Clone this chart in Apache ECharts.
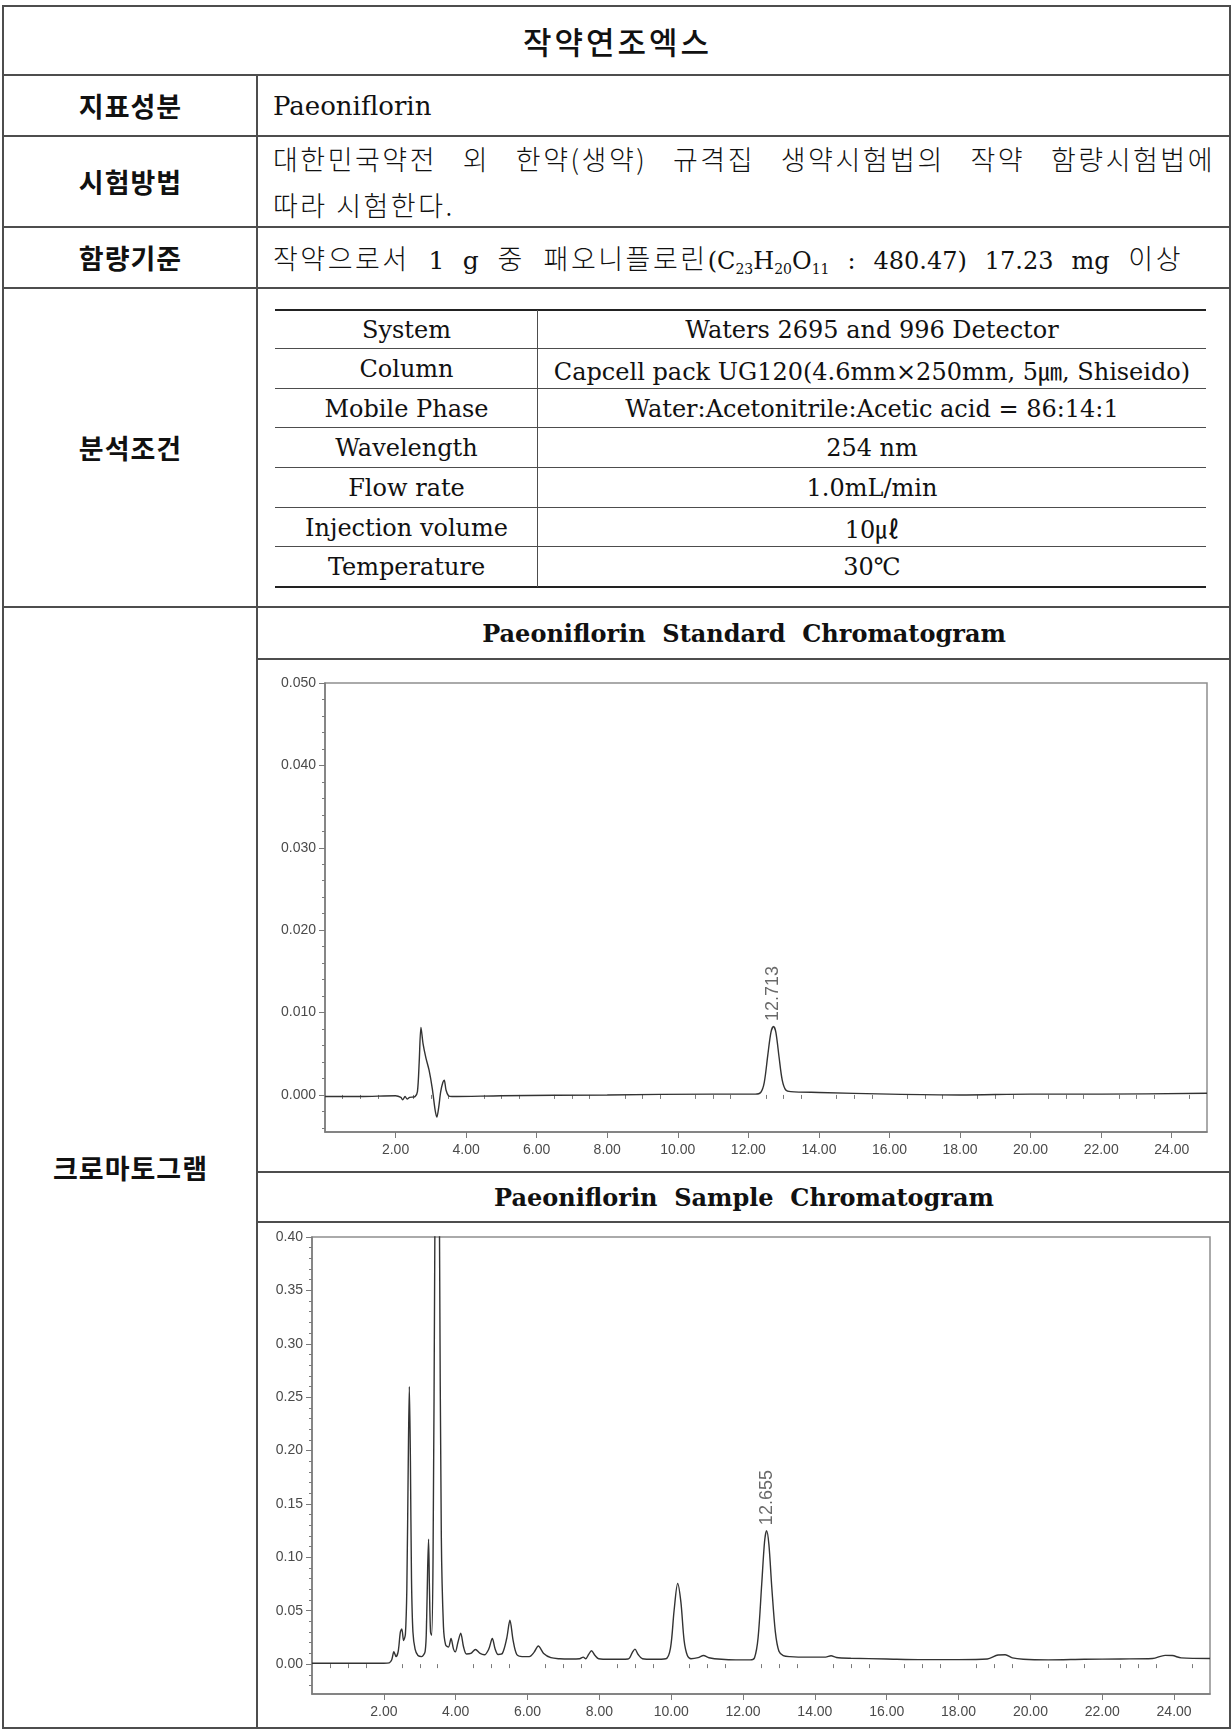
<!DOCTYPE html>
<html>
<head>
<meta charset="utf-8">
<title>작약연조엑스</title>
<script src="https://cdn.jsdelivr.net/npm/echarts@6/dist/echarts.min.js"></script>
<style>
  html, body { margin: 0; padding: 0; background: #fff; }
  #page { position: relative; width: 1231px; height: 1731px; overflow: hidden;
          font-family: "DejaVu Serif", "Noto Sans CJK KR", serif; color: #111; }
  .h { position: absolute; height: 0; border-top: 2px solid #4d4d4d; }
  .v { position: absolute; width: 0; border-left: 2px solid #4d4d4d; }
  .cell { position: absolute; display: flex; align-items: center; white-space: pre; }
  .hd { left: 3px; width: 254px; justify-content: center; padding-left: 1px; box-sizing: border-box;
        font-family: "Noto Sans CJK KR", sans-serif; font-weight: 700; font-size: 27px; letter-spacing: 1px; }
  .ko { font-family: "Noto Sans CJK KR", sans-serif; font-weight: 300; font-size: 27px; letter-spacing: 2.5px; }
  .lat { font-family: "DejaVu Serif", serif; letter-spacing: 0; }
  .jl { display: block; text-align: justify; text-align-last: justify; }
  .it { position: absolute; display: flex; align-items: center; justify-content: center;
        font-family: "DejaVu Serif", "Noto Sans CJK KR", serif; font-size: 24px; white-space: pre; }
  .ct { left: 257px; width: 974px; justify-content: center; font-family: "DejaVu Serif", serif;
        font-weight: 700; font-size: 24px; }
  sub { font-size: 14px; vertical-align: -5px; line-height: 0; }
  #chart { position: absolute; left: 0; top: 0; width: 1231px; height: 1731px; }
</style>
</head>
<body>
<div id="page">
  <!-- outer frame and row rules -->
  <div class="h" style="left:2px;width:1229px;top:5px;"></div>
  <div class="h" style="left:2px;width:1229px;top:74px;"></div>
  <div class="h" style="left:2px;width:1229px;top:135px;"></div>
  <div class="h" style="left:2px;width:1229px;top:226px;"></div>
  <div class="h" style="left:2px;width:1229px;top:287px;"></div>
  <div class="h" style="left:2px;width:1229px;top:606px;"></div>
  <div class="h" style="left:2px;width:1229px;top:1727px;"></div>
  <div class="v" style="left:2px;top:5px;height:1724px;"></div>
  <div class="v" style="left:1229px;top:5px;height:1724px;"></div>
  <div class="v" style="left:256px;top:74px;height:1655px;"></div>
  <!-- rules inside the chromatogram cell -->
  <div class="h" style="left:257px;width:974px;top:658px;"></div>
  <div class="h" style="left:257px;width:974px;top:1171px;"></div>
  <div class="h" style="left:257px;width:974px;top:1221px;"></div>

  <!-- title row -->
  <div class="cell" style="left:3px;width:1226px;top:6px;height:69px;justify-content:center;padding-left:3px;box-sizing:border-box;font-family:'Noto Sans CJK KR',sans-serif;font-size:31px;font-weight:500;letter-spacing:3px;">작약연조엑스</div>

  <!-- row headers -->
  <div class="cell hd" style="top:75px;height:61px;">지표성분</div>
  <div class="cell hd" style="top:136px;height:91px;">시험방법</div>
  <div class="cell hd" style="top:227px;height:61px;">함량기준</div>
  <div class="cell hd" style="top:288px;height:319px;">분석조건</div>
  <div class="cell hd" style="top:607px;height:1121px;">크로마토그램</div>

  <!-- row contents -->
  <div class="cell lat" style="left:273px;top:75px;height:61px;font-size:26px;">Paeoniflorin</div>
  <div class="cell ko" style="left:273px;width:942px;top:139px;height:38px;"><span class="jl" style="width:942px;">대한민국약전 외 한약(생약) 규격집 생약시험법의 작약 함량시험법에</span></div>
  <div class="cell ko" style="left:273px;top:185px;height:38px;">따라 시험한다.</div>
  <div class="cell ko" style="left:273px;width:910px;top:227px;height:61px;"><span class="jl" style="width:910px;">작약으로서 <span class="lat" style="font-size:25px;">1 g</span> 중 패오니플로린<span class="lat" style="font-size:24px;">(C<sub>23</sub>H<sub>20</sub>O<sub>11</sub> : 480.47) 17.23 mg</span> 이상</span></div>

  <!-- analysis conditions table -->
  <div class="h" style="left:275px;width:931px;top:309px;border-top-color:#222;"></div>
  <div class="h" style="left:275px;width:931px;top:348px;border-top-width:1px;"></div>
  <div class="h" style="left:275px;width:931px;top:388px;border-top-width:1px;"></div>
  <div class="h" style="left:275px;width:931px;top:427px;border-top-width:1px;"></div>
  <div class="h" style="left:275px;width:931px;top:467px;border-top-width:1px;"></div>
  <div class="h" style="left:275px;width:931px;top:507px;border-top-width:1px;"></div>
  <div class="h" style="left:275px;width:931px;top:546px;border-top-width:1px;"></div>
  <div class="h" style="left:275px;width:931px;top:586px;border-top-color:#222;"></div>
  <div class="v" style="left:537px;top:310px;height:277px;border-left-width:1px;"></div>

  <div class="it" style="left:275px;width:263px;top:310px;height:39px;">System</div>
  <div class="it" style="left:538px;width:668px;top:310px;height:39px;">Waters 2695 and 996 Detector</div>
  <div class="it" style="left:275px;width:263px;top:349px;height:40px;">Column</div>
  <div class="it" style="left:538px;width:668px;top:349px;height:40px;">Capcell pack UG120(4.6mm×250mm, 5㎛, Shiseido)</div>
  <div class="it" style="left:275px;width:263px;top:389px;height:39px;">Mobile Phase</div>
  <div class="it" style="left:538px;width:668px;top:389px;height:39px;">Water:Acetonitrile:Acetic acid = 86:14:1</div>
  <div class="it" style="left:275px;width:263px;top:428px;height:40px;">Wavelength</div>
  <div class="it" style="left:538px;width:668px;top:428px;height:40px;">254 nm</div>
  <div class="it" style="left:275px;width:263px;top:468px;height:40px;">Flow rate</div>
  <div class="it" style="left:538px;width:668px;top:468px;height:40px;">1.0mL/min</div>
  <div class="it" style="left:275px;width:263px;top:508px;height:39px;">Injection volume</div>
  <div class="it" style="left:538px;width:668px;top:508px;height:39px;">10㎕</div>
  <div class="it" style="left:275px;width:263px;top:547px;height:40px;">Temperature</div>
  <div class="it" style="left:538px;width:668px;top:547px;height:40px;">30℃</div>

  <!-- chromatogram titles -->
  <div class="cell ct" style="top:608px;height:51px;">Paeoniflorin  Standard  Chromatogram</div>
  <div class="cell ct" style="top:1173px;height:49px;">Paeoniflorin  Sample  Chromatogram</div>

  <div id="chart"></div>
</div>

<script>
// Paeoniflorin standard: retention time (min) and absorbance (AU)
const stdTime = [0, 1.0, 2.0, 2.15, 2.2, 2.27, 2.33, 2.4, 2.55, 2.62, 2.67, 2.72, 2.78, 2.86, 2.95, 3.04, 3.12, 3.17, 3.22, 3.28, 3.34, 3.38, 3.43, 3.5, 3.6, 5.0, 8.0, 11.0, 12.2, 12.35, 12.45, 12.55, 12.64, 12.713, 12.78, 12.87, 12.96, 13.06, 13.2, 14.0, 16.0, 18.0, 20.0, 22.0, 25.0];
const stdAbs  = [-0.0002, -0.0002, -0.0001, -0.0003, -0.0006, -0.0002, -0.0005, -0.0003, -0.0002, 0.0004, 0.0040, 0.0082, 0.0062, 0.0045, 0.0030, 0.0008, -0.0018, -0.0027, -0.0016, 0.0004, 0.0015, 0.0018, 0.0006, -0.0001, -0.0002, -0.0001, 0.0000, 0.0001, 0.0001, 0.0003, 0.0015, 0.0048, 0.0076, 0.0083, 0.0076, 0.0046, 0.0018, 0.0006, 0.0004, 0.0003, 0.0001, 0.0000, 0.0001, 0.0001, 0.0002];

// Sample extract: retention time (min) and absorbance (AU); the 3.4-3.6 min peak runs off scale
const smpTime = [0, 1.0, 2.0, 2.15, 2.22, 2.28, 2.34, 2.40, 2.46, 2.50, 2.55, 2.60, 2.64, 2.68, 2.71, 2.74, 2.77, 2.81, 2.87, 2.95, 3.05, 3.15, 3.19, 3.22, 3.245, 3.27, 3.30, 3.33, 3.37, 3.42, 3.46, 3.51, 3.55, 3.60, 3.66, 3.72, 3.80, 3.87, 3.94, 3.99, 4.06, 4.14, 4.22, 4.30, 4.42, 4.55, 4.68, 4.80, 4.92, 5.02, 5.10, 5.18, 5.30, 5.42, 5.51, 5.60, 5.70, 5.85, 6.05, 6.18, 6.30, 6.45, 6.65, 6.9, 7.2, 7.45, 7.55, 7.62, 7.70, 7.78, 7.88, 7.98, 8.3, 8.8, 8.92, 8.99, 9.08, 9.2, 9.5, 9.85, 9.98, 10.08, 10.18, 10.27, 10.36, 10.45, 10.55, 10.75, 10.9, 11.05, 11.4, 11.8, 12.2, 12.32, 12.42, 12.52, 12.60, 12.655, 12.72, 12.80, 12.90, 13.0, 13.12, 13.3, 13.8, 14.3, 14.45, 14.6, 15.0, 16.0, 17.0, 18.0, 18.8, 19.1, 19.3, 19.5, 19.8, 20.5, 21.5, 22.5, 23.4, 23.75, 23.95, 24.2, 25.0];
const smpAbs  = [0.0008, 0.0008, 0.0008, 0.0012, 0.004, 0.0115, 0.007, 0.012, 0.030, 0.033, 0.022, 0.028, 0.07, 0.19, 0.26, 0.19, 0.08, 0.03, 0.014, 0.008, 0.007, 0.012, 0.04, 0.09, 0.117, 0.07, 0.03, 0.027, 0.10, 0.40, 0.70, 0.70, 0.40, 0.12, 0.035, 0.018, 0.016, 0.024, 0.014, 0.0115, 0.02, 0.029, 0.016, 0.0095, 0.010, 0.0137, 0.010, 0.0087, 0.014, 0.024, 0.014, 0.009, 0.010, 0.024, 0.041, 0.022, 0.009, 0.007, 0.007, 0.011, 0.017, 0.010, 0.006, 0.005, 0.0048, 0.005, 0.0065, 0.005, 0.009, 0.0125, 0.008, 0.005, 0.0045, 0.0048, 0.011, 0.014, 0.009, 0.005, 0.0045, 0.005, 0.015, 0.050, 0.0755, 0.058, 0.022, 0.008, 0.005, 0.006, 0.008, 0.006, 0.0045, 0.004, 0.004, 0.006, 0.025, 0.075, 0.115, 0.125, 0.112, 0.072, 0.030, 0.012, 0.008, 0.007, 0.0065, 0.0065, 0.0078, 0.0062, 0.0055, 0.0048, 0.0042, 0.0042, 0.0048, 0.0085, 0.0088, 0.0058, 0.0045, 0.004, 0.0045, 0.0048, 0.0052, 0.0082, 0.0080, 0.0058, 0.0052];

// retention times printed above the paeoniflorin peaks
const stdPeakRT = 12.713;
const smpPeakRT = 12.655;

// axis ticks
const timeTicks = [2, 4, 6, 8, 10, 12, 14, 16, 18, 20, 22, 24];
const timeMinorTicks = [0.5, 1, 1.5, 2.5, 3, 3.5, 4.5, 5, 5.5, 6.5, 7, 7.5, 8.5, 9, 9.5, 10.5, 11, 11.5, 12.5, 13, 13.5, 14.5, 15, 15.5, 16.5, 17, 17.5, 18.5, 19, 19.5, 20.5, 21, 21.5, 22.5, 23, 23.5, 24.5];
const stdAbsTicks = [0, 0.01, 0.02, 0.03, 0.04, 0.05];
const stdAbsMinorTicks = [-0.004, -0.002, 0.002, 0.004, 0.006, 0.008, 0.012, 0.014, 0.016, 0.018, 0.022, 0.024, 0.026, 0.028, 0.032, 0.034, 0.036, 0.038, 0.042, 0.044, 0.046, 0.048];
const smpAbsTicks = [0, 0.05, 0.10, 0.15, 0.20, 0.25, 0.30, 0.35, 0.40];
const smpAbsMinorTicks = [-0.02, -0.01, 0.01, 0.02, 0.03, 0.04, 0.06, 0.07, 0.08, 0.09, 0.11, 0.12, 0.13, 0.14, 0.16, 0.17, 0.18, 0.19, 0.21, 0.22, 0.23, 0.24, 0.26, 0.27, 0.28, 0.29, 0.31, 0.32, 0.33, 0.34, 0.36, 0.37, 0.38, 0.39];

const AXIS_COLOR = '#7a7a7a';
const LABEL_STYLE = { color: '#4a4a4a', fontFamily: 'Liberation Sans, Arial, sans-serif', fontSize: 14 };

function pairs(xs, ys) { return xs.map((x, i) => [x, ys[i]]); }
function peakPoint(xs, ys, rt) { const i = xs.indexOf(rt); return [xs[i], ys[i]]; }

function majorX(grid, ticks) {
  return {
    type: 'value', gridIndex: grid, min: 0, max: 25, position: 'bottom',
    axisLine: { show: true, onZero: false, lineStyle: { color: AXIS_COLOR, width: 1.5 } },
    axisTick: { show: true, customValues: ticks, length: 6, lineStyle: { color: AXIS_COLOR, width: 1 } },
    axisLabel: Object.assign({ show: true, customValues: ticks, margin: 11, formatter: v => v.toFixed(2) }, LABEL_STYLE),
    splitLine: { show: false }
  };
}
function minorX(grid, ticks) {
  return {
    type: 'value', gridIndex: grid, min: 0, max: 25, position: 'bottom',
    axisLine: { show: false },
    axisTick: { show: true, customValues: ticks, length: 4, lineStyle: { color: AXIS_COLOR, width: 1 } },
    axisLabel: { show: false }, splitLine: { show: false }
  };
}
function majorY(grid, min, max, ticks, digits) {
  return {
    type: 'value', gridIndex: grid, min: min, max: max, position: 'left',
    axisLine: { show: true, onZero: false, lineStyle: { color: AXIS_COLOR, width: 1.5 } },
    axisTick: { show: true, customValues: ticks, length: 6, lineStyle: { color: AXIS_COLOR, width: 1 } },
    axisLabel: Object.assign({ show: true, customValues: ticks, margin: 9, formatter: v => v.toFixed(digits) }, LABEL_STYLE),
    splitLine: { show: false }
  };
}
function minorY(grid, min, max, ticks) {
  return {
    type: 'value', gridIndex: grid, min: min, max: max, position: 'left',
    axisLine: { show: false },
    axisTick: { show: true, customValues: ticks, length: 3, lineStyle: { color: AXIS_COLOR, width: 1 } },
    axisLabel: { show: false }, splitLine: { show: false }
  };
}
function trace(xIdx, yIdx, data) {
  return {
    type: 'line', xAxisIndex: xIdx, yAxisIndex: yIdx, data: data,
    symbol: 'none', smooth: 0.3, clip: true, silent: true,
    lineStyle: { color: '#333', width: 1.4 }
  };
}
function rtLabel(xIdx, yIdx, point) {
  return {
    type: 'scatter', xAxisIndex: xIdx, yAxisIndex: yIdx, data: [point],
    symbolSize: 1, itemStyle: { color: 'rgba(0,0,0,0)' }, silent: true,
    label: {
      show: true, position: 'top', distance: 5, rotate: 90, align: 'left', verticalAlign: 'middle',
      formatter: p => p.value[0].toFixed(3),
      color: '#444', fontFamily: 'Liberation Sans, Arial, sans-serif', fontSize: 18
    }
  };
}

const chart = echarts.init(document.getElementById('chart'), null, { renderer: 'canvas' });
chart.setOption({
  backgroundColor: 'transparent',
  animation: false,
  grid: [
    { left: 325, top: 683, width: 882, height: 449, show: true, borderColor: '#8f8f8f', borderWidth: 1.5, containLabel: false },
    { left: 312, top: 1237, width: 898, height: 457, show: true, borderColor: '#8f8f8f', borderWidth: 1.5, containLabel: false }
  ],
  xAxis: [
    majorX(0, timeTicks), minorX(0, timeMinorTicks),
    majorX(1, timeTicks), minorX(1, timeMinorTicks)
  ],
  yAxis: [
    majorY(0, -0.0045, 0.05, stdAbsTicks, 3), minorY(0, -0.0045, 0.05, stdAbsMinorTicks),
    majorY(1, -0.028, 0.40, smpAbsTicks, 2), minorY(1, -0.028, 0.40, smpAbsMinorTicks)
  ],
  series: [
    trace(0, 0, pairs(stdTime, stdAbs)),
    rtLabel(0, 0, peakPoint(stdTime, stdAbs, stdPeakRT)),
    trace(2, 2, pairs(smpTime, smpAbs)),
    rtLabel(2, 2, peakPoint(smpTime, smpAbs, smpPeakRT))
  ]
});
</script>
</body>
</html>
